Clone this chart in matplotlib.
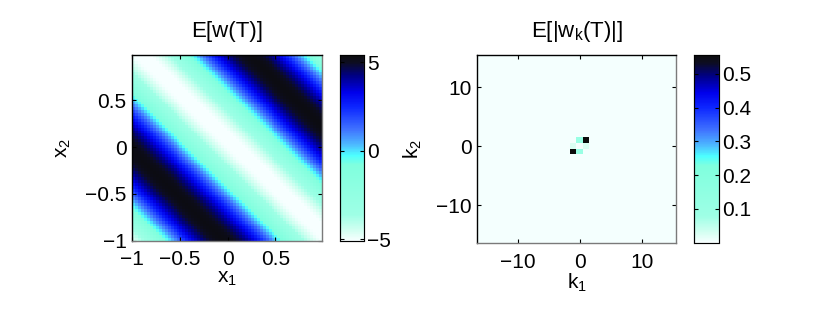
#!/usr/bin/env python3
import numpy as np
import matplotlib
matplotlib.use("Agg")
import matplotlib.pyplot as plt
from matplotlib.colors import LinearSegmentedColormap

plt.rcParams['font.family'] = ['Liberation Sans', 'DejaVu Sans']
plt.rcParams['mathtext.default'] = 'regular'

###########################################################################
# data
# left panel: plane wave across x1+x2, read from the band positions
wave_amp = 5.25           # peak value of E[w(T)]
wave_number = 0.885       # in units of pi, along s = x1 + x2
wave_trough = 0.07        # s at the centre of the white band

# right panel: mean magnitudes E[|w_k(T)|] at (k1, k2), mirrored to (-k1, -k2)
mode_k1 = [1, 0, 1]
mode_k2 = [1, 1, 0]
mode_amp = [0.555, 0.10, 0.025]
background_amp = 0.004

n_grid = 64
n_modes = 32

left_ticks = [-1, -0.5, 0, 0.5]
right_ticks = [-10, 0, 10]
cbar_left_ticks = [-5, 0, 5]
cbar_right_ticks = [0.1, 0.2, 0.3, 0.4, 0.5]
clim_left = (-5.1, 5.4)
clim_right = (0.0, 0.556)

###########################################################################
cmap = LinearSegmentedColormap.from_list("ice_r", [
	(0.00, (0.97, 1.00, 1.00)),
	(0.05, (0.84, 1.00, 0.95)),
	(0.14, (0.62, 1.00, 0.90)),
	(0.41, (0.50, 1.00, 0.87)),
	(0.46, (0.30, 1.00, 1.00)),
	(0.52, (0.30, 0.72, 1.00)),
	(0.60, (0.25, 0.45, 1.00)),
	(0.72, (0.05, 0.15, 1.00)),
	(0.80, (0.00, 0.00, 0.92)),
	(0.89, (0.00, 0.00, 0.52)),
	(0.96, (0.05, 0.05, 0.13)),
	(1.00, (0.05, 0.05, 0.05)),
])

x = -1 + 2*np.arange(n_grid)/n_grid
X1, X2 = np.meshgrid(x, x)
field = -wave_amp*np.cos(np.pi*wave_number*(X1 + X2 - wave_trough))

k = np.arange(-n_modes//2, n_modes//2)
spec = np.full((n_modes, n_modes), background_amp)
for k1, k2, a in zip(mode_k1, mode_k2, mode_amp):
	spec[k2 + n_modes//2, k1 + n_modes//2] = a
	spec[-k2 + n_modes//2, -k1 + n_modes//2] = a

###########################################################################
fs = 15

def style_axes(ax):
	ax.tick_params(direction='in', top=True, right=True, length=3, labelsize=fs)
	ax.tick_params(axis='x', pad=7)
	ax.tick_params(axis='y', pad=4)
	for s in ['top', 'left']:
		ax.spines[s].set_color('black')
	for s in ['bottom', 'right']:
		ax.spines[s].set_color('#7a7a7a')
	for s in ax.spines.values():
		s.set_linewidth(1.0)

def style_cbar(cax):
	cax.tick_params(direction='in', left=True, right=True, length=3, labelsize=fs, pad=2)
	for s in ['top', 'left']:
		cax.spines[s].set_color('black')
	for s in ['bottom', 'right']:
		cax.spines[s].set_color('#7a7a7a')

fig = plt.figure(figsize=(8.3, 3.15), dpi=100)

ax1 = fig.add_axes([0.1594, 0.2359, 0.2282, 0.5895])
h = x[1] - x[0]
im1 = ax1.imshow(field, origin='lower', cmap=cmap, vmin=clim_left[0], vmax=clim_left[1],
	extent=(-1, x[-1] + h/2, -1, x[-1] + h/2), aspect='auto', interpolation='nearest')
ax1.set_xlim(-1, x[-1] + h/2)
ax1.set_ylim(-1, x[-1] + h/2)
ax1.set_xticks(left_ticks)
ax1.set_yticks(left_ticks)
ax1.set_xticklabels(['\u22121', '\u22120.5', '0', '0.5'])
ax1.set_yticklabels(['\u22121', '\u22120.5', '0', '0.5'])
ax1.set_xlabel('x$_1$', fontsize=fs, labelpad=0)
ax1.set_ylabel('x$_2$', fontsize=fs, labelpad=9)
ax1.set_title('E[w(T)]', fontsize=16, pad=13)
style_axes(ax1)

cax1 = fig.add_axes([0.4096, 0.2349, 0.0293, 0.5905])
cb1 = fig.colorbar(im1, cax=cax1, ticks=cbar_left_ticks)
cb1.ax.set_yticklabels(['\u22125', '0', '5'])
cb1.outline.set_visible(False)
for s in cax1.spines.values():
	s.set_visible(True)
style_cbar(cax1)

ax2 = fig.add_axes([0.5751, 0.2276, 0.2394, 0.5978])
im2 = ax2.imshow(spec, origin='lower', cmap=cmap, vmin=clim_right[0], vmax=clim_right[1],
	extent=(k[0] - 0.5, k[-1] + 0.5, k[0] - 0.5, k[-1] + 0.5), aspect='auto', interpolation='nearest')
ax2.set_xticks(right_ticks)
ax2.set_yticks(right_ticks)
ax2.set_xticklabels(['\u221210', '0', '10'])
ax2.set_yticklabels(['\u221210', '0', '10'])
ax2.set_xlabel('k$_1$', fontsize=fs, labelpad=0)
ax2.set_ylabel('k$_2$', fontsize=fs, labelpad=9)
ax2.set_title('E[|w$_k$(T)|]', fontsize=16, pad=13)
style_axes(ax2)

cax2 = fig.add_axes([0.8365, 0.2295, 0.0298, 0.5959])
cb2 = fig.colorbar(im2, cax=cax2, ticks=cbar_right_ticks)
cb2.outline.set_visible(False)
for s in cax2.spines.values():
	s.set_visible(True)
style_cbar(cax2)

fig.savefig("out.png", dpi=100)
plt.close()
